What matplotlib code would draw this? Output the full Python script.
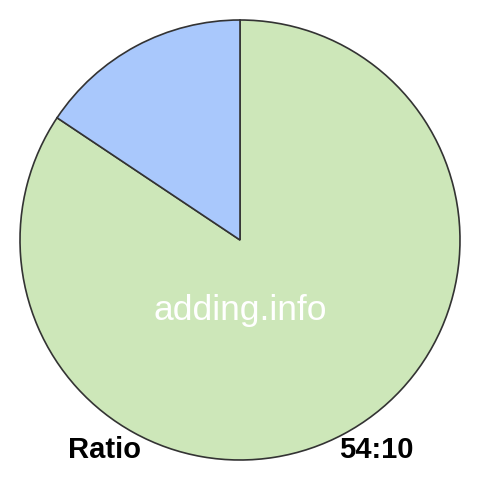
import matplotlib
matplotlib.use("Agg")
import matplotlib.pyplot as plt

labels = ["54", "10"]
values = [54, 10]
colors = ["#cde7b9", "#a9c8fc"]

plt.rcParams["font.family"] = ["Liberation Sans", "DejaVu Sans"]

fig = plt.figure(figsize=(4.8, 4.8), dpi=100)
ax = fig.add_axes([0, 0, 1, 1])

ax.pie(
    values,
    colors=colors,
    startangle=90,
    counterclock=False,
    radius=1.0,
    wedgeprops={"edgecolor": "#333333", "linewidth": 1.2},
)

lim = 240 / 220
ax.set_xlim(-lim, lim)
ax.set_ylim(-lim, lim)
ax.set_aspect("equal")
ax.axis("off")

ax.text(0, -0.363, "adding.info", color="white", fontsize=25.5,
        ha="center", va="baseline")
ax.text(-0.618, -0.99, "Ratio", fontsize=21, fontweight="bold",
        ha="center", va="baseline")
ax.text(0.618, -0.99, "%s:%s" % (labels[0], labels[1]), fontsize=21,
        fontweight="bold", ha="center", va="baseline")

fig.savefig("out.png", dpi=100)
